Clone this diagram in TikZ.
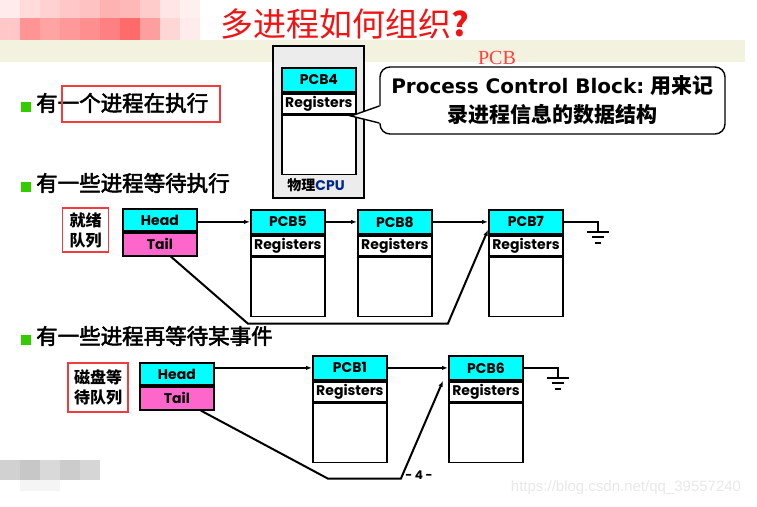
\documentclass[tikz,border=0pt]{standalone}
\usepackage{fontspec}
\setmainfont{Noto Sans CJK SC}
\newfontfamily\cjk{Noto Sans CJK SC}
\newfontfamily\cjkheavy[FakeBold=2.5]{Noto Sans CJK SC}
\newfontfamily\gothic{Poppins}
\newfontfamily\verd{DejaVu Sans}
\newfontfamily\serifpcb{Liberation Serif}
\newfontfamily\webfont{Liberation Sans}
\usetikzlibrary{arrows.meta}

\definecolor{pcbcyan}{RGB}{0,255,255}
\definecolor{tailpink}{RGB}{255,102,204}
\definecolor{titlered}{RGB}{240,20,20}
\definecolor{boxred}{RGB}{240,60,60}
\definecolor{bulletgreen}{RGB}{51,204,0}
\definecolor{cpugray}{RGB}{236,236,236}
\definecolor{band}{RGB}{243,242,222}
\definecolor{cpublue}{RGB}{0,40,140}

\tikzset{
  cell/.style={draw, line width=1.8pt, minimum width=74pt, inner sep=0pt,
    anchor=north west, font=\gothic\bfseries\fontsize{14}{14}\selectfont},
  hdr/.style={cell, fill=pcbcyan, minimum height=24pt},
  headcell/.style={cell, fill=pcbcyan, minimum height=22pt},
  tailcell/.style={cell, fill=tailpink, minimum height=23pt},
  regs/.style={cell, fill=white, minimum height=20pt},
  body/.style={cell, fill=white, minimum height=59pt},
  qlabel/.style={draw=boxred, line width=1.8pt, inner sep=2pt, align=center,
    font=\cjk\bfseries\fontsize{16}{20}\selectfont},
  bullettext/.style={anchor=west, inner sep=0pt, font=\cjkheavy\fontsize{21.5}{24}\selectfont},
  bulletsq/.style={fill=bulletgreen, minimum size=10pt, inner sep=0pt},
  link/.style={-{Latex[length=6pt,width=4.5pt]}, line width=2pt},
  wire/.style={line width=2pt}
}

% one PCB: header, registers, empty body
\newcommand{\pcbstack}[4]{%
  \node[hdr] (#1) at (#2,#3) {#4};
  \node[regs] (#1r) at (#1.south west) {Registers};
  \node[body] (#1b) at (#1r.south west) {};
}

\begin{document}
\begin{tikzpicture}[x=1pt,y=-1pt]
  \useasboundingbox (0,0) rectangle (757,506);

  % mosaic and band behind the title
  \foreach \i/\s in {0/8,1/14,2/18,3/22,4/24,5/30,6/28,7/20,8/10,9/6}
    \fill[red!\s] (\i*20,0) rectangle ++(20,18);
  \foreach \i/\s in {0/22,1/42,2/36,3/40,4/44,5/50,6/58,7/38,8/16,9/8}
    \fill[red!\s] (\i*20,18) rectangle ++(20,22);
  \fill[band] (0,40) rectangle (745,62);
  \foreach \i/\s in {0/18,1/22,2/15,3/20,4/16}
    \fill[black!\s] (\i*20,460) rectangle ++(20,20);
  \fill[black!4] (20,480) rectangle (60,491);

  \node[text=titlered, font=\cjk\fontsize{33}{36}\selectfont] (title) at (345,24) {多进程如何组织{\bfseries ?}};
  \node[text=red!75, font=\serifpcb\fontsize{20}{20}\selectfont] (pcbword) at (497,58) {PCB};

  % running process
  \node[draw, line width=1.8pt, fill=cpugray, minimum width=91pt, minimum height=152pt,
    anchor=north west] (cpu) at (272,45) {};
  \pcbstack{p4}{281}{67}{PCB4}
  \node[font=\cjk\bfseries\fontsize{14}{14}\selectfont] (cpulbl) at (316,185)
    {物理{\gothic\color{cpublue}CPU}};

  \node[draw, line width=1.4pt, fill=white, rounded corners=10pt, minimum width=345pt,
    minimum height=67pt, align=center, font=\fontsize{21}{29}\selectfont\bfseries] (note) at (552.5,100.5)
    {{\verd\fontsize{20}{29}\selectfont Process Control Block:} 用来记\\录进程信息的数据结构};
  \fill[white] (381,106) -- (351,116) -- (381,123) -- cycle;
  \draw[line width=1.4pt] (note.west |- 0,106) -- (351,116) -- (note.west |- 0,123);

  \node[bulletsq] (sq1) at (26,107) {};
  \node[bullettext] (b1) at (36,103) {有一个进程在执行};
  \draw[boxred, line width=1.8pt] (62,86) rectangle (220,122);

  % ready queue
  \node[bulletsq] (sq2) at (26,187) {};
  \node[bullettext] (b2) at (36,183) {有一些进程等待执行};
  \node[qlabel, minimum width=46pt, minimum height=44pt] (rdy) at (85.5,230) {就绪\\队列};
  \node[headcell] (hd1) at (122,208) {Head};
  \node[tailcell] (tl1) at (hd1.south west) {Tail};
  \pcbstack{p5}{250}{209}{PCB5}
  \pcbstack{p8}{357}{209}{PCB8}
  \pcbstack{p7}{488}{209}{PCB7}
  \draw[link] (hd1.east |- p5.west) -- (p5.west);
  \draw[link, line width=2.8pt] (p5.east) -- (p8.west);
  \draw[link] (p8.east) -- (p7.west);
  \draw[wire] (p7.east) -| ++(34,10) coordinate (gnd1);
  \draw[wire] ([xshift=-11pt]gnd1) -- ([xshift=11pt]gnd1);
  \draw[wire] ([xshift=-6pt,yshift=-5pt]gnd1) -- ([xshift=6pt,yshift=-5pt]gnd1);
  \draw[wire] ([xshift=-3pt,yshift=-11pt]gnd1) -- ([xshift=3pt,yshift=-11pt]gnd1);
  \draw[link] ([xshift=11pt]tl1.south) -- ++(77,67) -- ++(200,0) -- ([yshift=5pt]p7.south west);

  % disk queue
  \node[bulletsq] (sq3) at (26,340) {};
  \node[bullettext] (b3) at (36,336) {有一些进程再等待某事件};
  \node[qlabel, minimum width=60pt, minimum height=49pt] (disk) at (98,387.5) {磁盘等\\待队列};
  \node[headcell] (hd2) at (139,362) {Head};
  \node[tailcell] (tl2) at (hd2.south west) {Tail};
  \pcbstack{p1}{312}{355}{PCB1}
  \pcbstack{p6}{448}{355}{PCB6}
  \draw[link] (hd2.east |- p1.west) -- (p1.west);
  \draw[link] (p1.east) -- (p6.west);
  \draw[wire] (p6.east) -| ++(34,10) coordinate (gnd2);
  \draw[wire] ([xshift=-11pt]gnd2) -- ([xshift=11pt]gnd2);
  \draw[wire] ([xshift=-6pt,yshift=-5pt]gnd2) -- ([xshift=6pt,yshift=-5pt]gnd2);
  \draw[wire] ([xshift=-3pt,yshift=-11pt]gnd2) -- ([xshift=3pt,yshift=-11pt]gnd2);
  \draw[link] ([xshift=24pt]tl2.south) -- ++(127,68) -- ++(73,0) -- ([xshift=-5pt]p6.south west);

  \node[font=\gothic\bfseries\fontsize{12}{12}\selectfont] (pgnum) at (419,475) {- 4 -};
  \node[text=black!9, font=\webfont\fontsize{15}{15}\selectfont] (wmark) at (626,488)
    {https://blog.csdn.net/qq\_39557240};
\end{tikzpicture}
\end{document}
